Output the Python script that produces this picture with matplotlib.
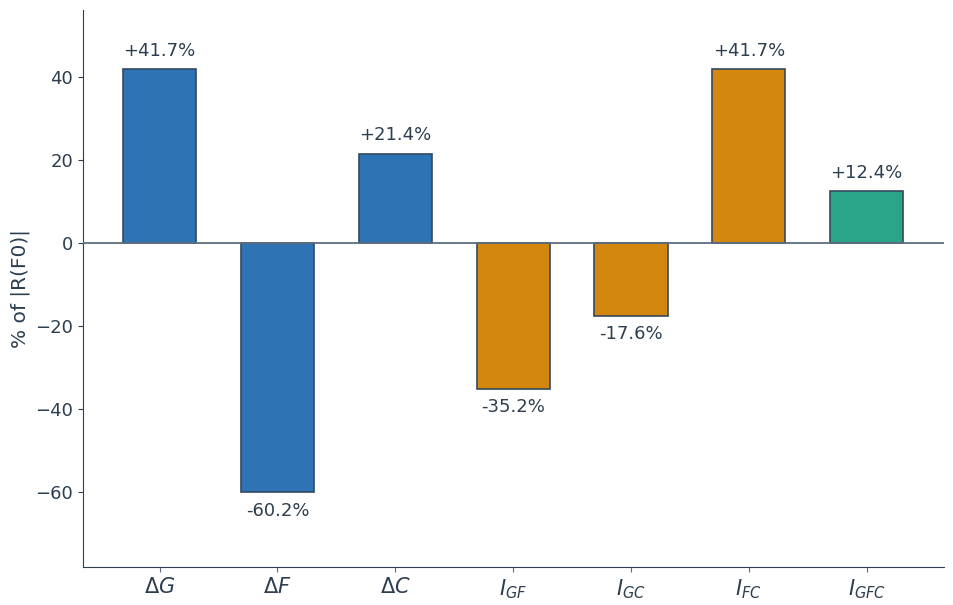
import numpy as np
import matplotlib
matplotlib.use('Agg')
import matplotlib.pyplot as plt

labels = [r'$\Delta G$', r'$\Delta F$', r'$\Delta C$', r'$I_{GF}$', r'$I_{GC}$', r'$I_{FC}$', r'$I_{GFC}$']
values = [41.7, -60.2, 21.4, -35.2, -17.6, 41.7, 12.4]
groups = ['main', 'main', 'main', 'pair', 'pair', 'pair', 'triple']
colors = {'main': '#2e74b5', 'pair': '#d4870f', 'triple': '#2aa58a'}
txt = '#2c3e50'

plt.rcParams['mathtext.fontset'] = 'dejavusans'
fig, ax = plt.subplots(figsize=(9.54, 6.05), dpi=100)
fig.subplots_adjust(left=0.087, right=0.99, top=0.984, bottom=0.062)

x = np.arange(len(values))
ax.bar(x, values, width=0.62, color=[colors[g] for g in groups],
       edgecolor='#34495e', linewidth=1.2, zorder=3)
ax.axhline(0, color='#5d6d7e', linewidth=1.3, zorder=4)

for xi, v in zip(x, values):
    if v >= 0:
        ax.text(xi, v + 2.3, f'+{v:.1f}%', ha='center', va='bottom', fontsize=13, color=txt)
    else:
        ax.text(xi, v - 2.3, f'{v:.1f}%', ha='center', va='top', fontsize=13, color=txt)

ax.set_xticks(x)
ax.set_xticklabels(labels, fontsize=15, color=txt)
ax.set_xlim(-0.65, 6.66)
ax.set_ylim(-78.3, 56.1)
ax.set_yticks([-60, -40, -20, 0, 20, 40])
ax.tick_params(axis='y', labelsize=13, labelcolor=txt, color=txt)
ax.tick_params(axis='x', color='#5d6d7e')
ax.set_ylabel('% of |R(F0)|', fontsize=14.5, color=txt)
for s in ['top', 'right']:
    ax.spines[s].set_visible(False)
for s in ['left', 'bottom']:
    ax.spines[s].set_color(txt)

plt.savefig('out.png', dpi=100)
